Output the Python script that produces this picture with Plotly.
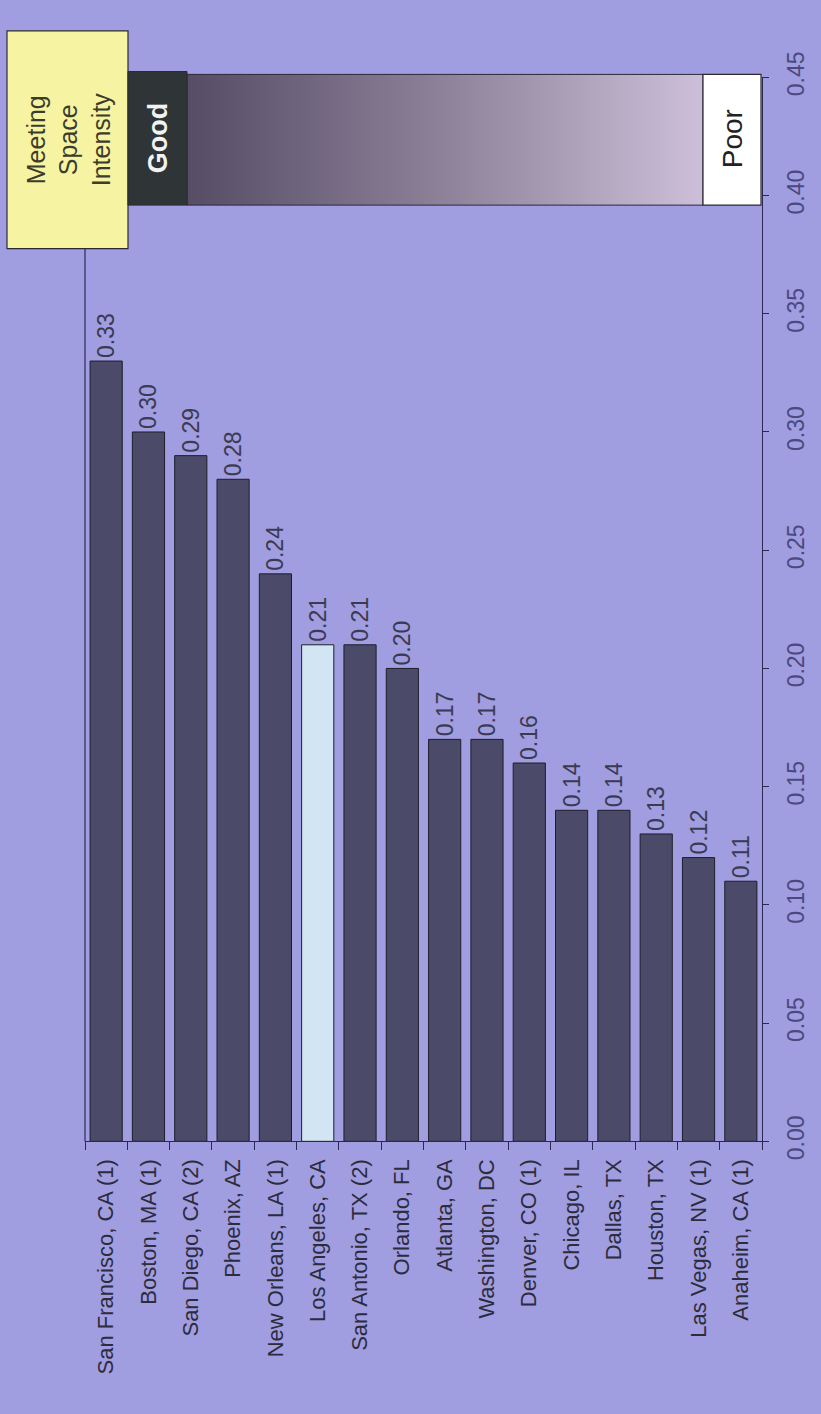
import plotly.graph_objects as go

# Meeting space intensity by city
cities = [
    "San Francisco, CA (1)", "Boston, MA (1)", "San Diego, CA (2)", "Phoenix, AZ",
    "New Orleans, LA (1)", "Los Angeles, CA", "San Antonio, TX (2)", "Orlando, FL",
    "Atlanta, GA", "Washington, DC", "Denver, CO (1)", "Chicago, IL",
    "Dallas, TX", "Houston, TX", "Las Vegas, NV (1)", "Anaheim, CA (1)",
]
intensity = [0.33, 0.30, 0.29, 0.28, 0.24, 0.21, 0.21, 0.20,
             0.17, 0.17, 0.16, 0.14, 0.14, 0.13, 0.12, 0.11]
highlight_city = "Los Angeles, CA"
value_ticks = [0.00, 0.05, 0.10, 0.15, 0.20, 0.25, 0.30, 0.35, 0.40, 0.45]

W, H = 821, 1414
BG = "#a09de0"
BAR = "#4b4a69"
BAR_HI = "#d2e5f3"
FONT = "Liberation Sans, Arial, sans-serif"

# plot area in pixels
left, right, top, bottom = 85, 762, 53, 1152

bar_colors = [BAR_HI if c == highlight_city else BAR for c in cities]

fig = go.Figure()
fig.add_trace(go.Bar(
    x=cities, y=intensity,
    marker=dict(color=bar_colors, line=dict(color="#1e1e2a", width=1)),
    text=[f"{v:.2f}" for v in intensity],
    textposition="outside", textangle=-90,
    textfont=dict(family=FONT, size=23, color="#3a3a52"),
    cliponaxis=False, constraintext="none",
    hoverinfo="skip", showlegend=False,
))

# legend scale: pixel-space overlay axes
gx0, gx1, gy0, gy1 = 187, 703, 50, 185
fig.add_trace(go.Scatter(
    x=[gx0, gx1, gx1, gx0, gx0], y=[gy0, gy0, gy1, gy1, gy0],
    xaxis="x2", yaxis="y2", mode="lines",
    line=dict(color="#2a2a38", width=1),
    fill="toself",
    fillgradient=dict(type="horizontal",
                      colorscale=[[0, "#564c66"], [0.5, "#8d8299"], [1, "#cdbfd9"]]),
    hoverinfo="skip", showlegend=False,
))

shapes = [
    # left frame line
    dict(type="line", xref="x2", yref="y2", x0=left, x1=left, y0=top, y1=bottom,
         line=dict(color="#2a2a50", width=1.2), layer="below"),
    # title box
    dict(type="rect", xref="x2", yref="y2", x0=7, x1=128, y0=5, y1=230,
         fillcolor="#f6f4a2", line=dict(color="#2a2a30", width=1.2), layer="above"),
    # "Good" end
    dict(type="rect", xref="x2", yref="y2", x0=128, x1=187, y0=47, y1=185,
         fillcolor="#2f3437", line=dict(color="#2a2a30", width=1), layer="above"),
    # "Poor" end
    dict(type="rect", xref="x2", yref="y2", x0=703, x1=761, y0=50, y1=185,
         fillcolor="#ffffff", line=dict(color="#2a2a30", width=1.2), layer="above"),
]

annotations = [
    dict(xref="x2", yref="y2", x=68, y=117, text="Meeting<br>Space<br>Intensity",
         showarrow=False, textangle=-90, align="center",
         font=dict(family=FONT, size=25, color="#3c3c2c")),
    dict(xref="x2", yref="y2", x=158, y=116, text="<b>Good</b>", showarrow=False,
         textangle=-90, font=dict(family=FONT, size=27, color="#f2f2f2")),
    dict(xref="x2", yref="y2", x=732, y=117, text="Poor", showarrow=False,
         textangle=-90, font=dict(family=FONT, size=28, color="#222222")),
]

fig.update_layout(
    width=W, height=H,
    margin=dict(l=0, r=0, t=0, b=0),
    paper_bgcolor=BG, plot_bgcolor="rgba(0,0,0,0)",
    bargap=0.24,
    font=dict(family=FONT),
    shapes=shapes, annotations=annotations,
    xaxis=dict(
        domain=[left / W, right / W],
        type="category", tickangle=-90,
        tickfont=dict(family=FONT, size=22, color="#2c2c3c"),
        showline=True, linecolor="#2a2a50", linewidth=1.2,
        ticks="outside", tickson="boundaries", ticklen=8, tickcolor="#2a2a50",
        ticklabelstandoff=8,
        showgrid=False, zeroline=False, fixedrange=True,
    ),
    yaxis=dict(
        domain=[1 - bottom / H, 1 - top / H],
        side="right", range=[0, 0.45], tickvals=value_ticks, tickformat=".2f",
        tickangle=-90,
        tickfont=dict(family=FONT, size=23, color="#4a4a80"),
        showline=True, linecolor="#2a2a50", linewidth=1.2,
        ticks="outside", ticklen=6, tickcolor="#2a2a50",
        ticklabelstandoff=7,
        showgrid=False, zeroline=False, fixedrange=True,
    ),
    xaxis2=dict(domain=[0, 1], range=[0, W], visible=False, anchor="y2",
                fixedrange=True),
    yaxis2=dict(domain=[0, 1], range=[H, 0], visible=False, anchor="x2",
                fixedrange=True),
)

fig.write_html("out.html")
